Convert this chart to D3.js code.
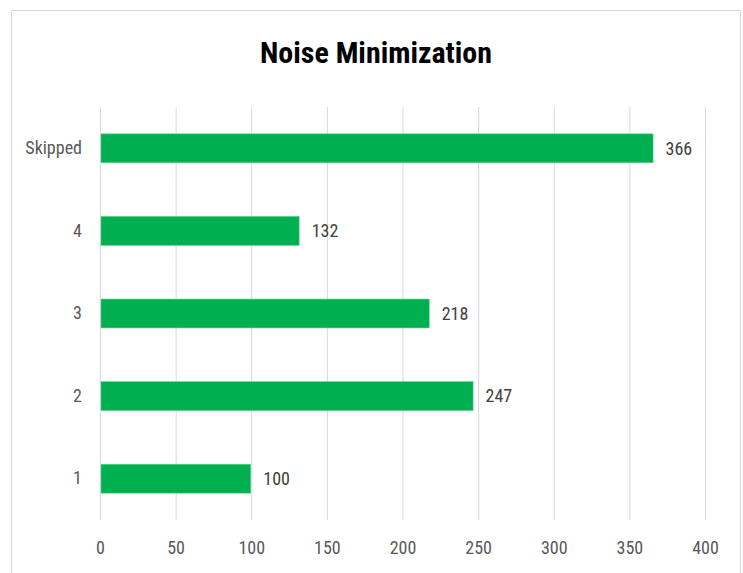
<!DOCTYPE html>
<html>
<head>
<meta charset="utf-8">
<script src="https://cdn.jsdelivr.net/npm/d3@7"></script>
<style>
  body { margin: 0; background: #fff; }
  text { font-family: "Liberation Sans Narrow", "Roboto Condensed", "Open Sans", sans-serif; }
</style>
</head>
<body>
<div id="chart"></div>
<script>
// categories top to bottom, as in the picture
const categories = ["Skipped", "4", "3", "2", "1"];
const values = [366, 132, 218, 247, 100];
const xTicks = [0, 50, 100, 150, 200, 250, 300, 350, 400];

const width = 743, height = 573;
const margin = { left: 100, right: 38, top: 107, bottom: 53 };

const svg = d3.select("#chart").append("svg")
    .attr("width", width)
    .attr("height", height);

// chart frame
svg.append("rect")
    .attr("x", 11.5).attr("y", 10.5)
    .attr("width", 729).attr("height", 580)
    .attr("fill", "#fff")
    .attr("stroke", "#d9d9d9");

svg.append("text")
    .attr("x", 376).attr("y", 63)
    .attr("text-anchor", "middle")
    .attr("font-size", 30)
    .attr("font-weight", "bold")
    .attr("fill", "#000")
    .attr("textLength", 232)
    .attr("lengthAdjust", "spacingAndGlyphs")
    .text("Noise Minimization");

const x = d3.scaleLinear()
    .domain([0, 400])
    .range([margin.left, 705]);

const y = d3.scaleBand()
    .domain(categories)
    .range([margin.top, height - margin.bottom])
    .paddingInner(0.65)
    .paddingOuter(0.325);

// gridlines
svg.append("g")
    .selectAll("line")
    .data(xTicks)
    .enter().append("line")
    .attr("x1", d => x(d) + 0.5)
    .attr("x2", d => x(d) + 0.5)
    .attr("y1", margin.top)
    .attr("y2", height - margin.bottom)
    .attr("stroke", "#d9d9d9")
    .attr("stroke-width", 1);

// x axis labels
const xAxis = d3.axisBottom(x).tickValues(xTicks).tickSize(0).tickPadding(0);
const gx = svg.append("g")
    .attr("transform", `translate(0,${height - margin.bottom})`)
    .call(xAxis);
gx.select(".domain").remove();
gx.selectAll("text")
    .attr("y", 34)
    .attr("dy", null)
    .attr("font-size", 18)
    .attr("font-family", null)
    .attr("fill", "#595959");

// y axis labels
const yAxis = d3.axisLeft(y).tickSize(0).tickPadding(18);
const gy = svg.append("g")
    .attr("transform", `translate(${margin.left},0)`)
    .call(yAxis);
gy.select(".domain").remove();
gy.selectAll("text")
    .attr("font-size", 18)
    .attr("font-family", null)
    .attr("fill", "#595959");

// bars
svg.append("g")
    .selectAll("rect")
    .data(values)
    .enter().append("rect")
    .attr("x", x(0) + 1)
    .attr("y", (d, i) => y(categories[i]))
    .attr("width", d => x(d) - x(0) - 1.5)
    .attr("height", y.bandwidth())
    .attr("fill", "#00b050")
    .attr("stroke", "#5fd08e")
    .attr("stroke-width", 0.6);

// value labels
svg.append("g")
    .selectAll("text")
    .data(values)
    .enter().append("text")
    .attr("x", d => x(d) + 12)
    .attr("y", (d, i) => y(categories[i]) + y.bandwidth() / 2)
    .attr("dy", "0.35em")
    .attr("font-size", 18)
    .attr("fill", "#404040")
    .text(d => d);
</script>
</body>
</html>
